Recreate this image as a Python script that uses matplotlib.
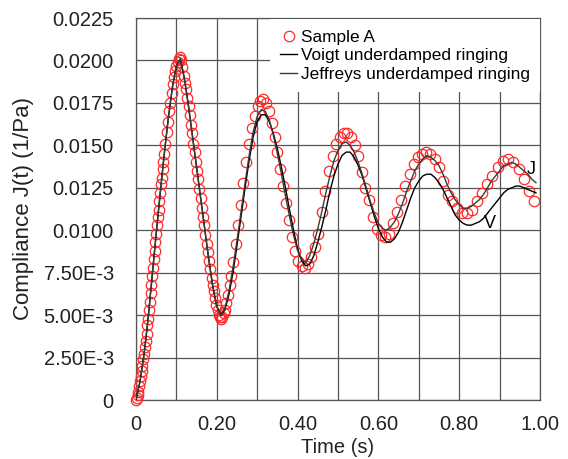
import matplotlib
matplotlib.use("Agg")
import matplotlib.pyplot as plt

plt.rcParams['font.family'] = ['Liberation Sans', 'DejaVu Sans']

# measured creep ringing of Sample A (time in s, compliance in 1/Pa)
sample_t = [0.000, 0.002, 0.004, 0.006, 0.008, 0.010, 0.012, 0.014, 0.016, 0.018,
            0.020, 0.022, 0.024, 0.026, 0.028, 0.030, 0.032, 0.034, 0.036, 0.038,
            0.040, 0.042, 0.044, 0.046, 0.048, 0.050, 0.052, 0.054, 0.056, 0.058,
            0.060, 0.062, 0.064, 0.066, 0.068, 0.070, 0.073, 0.076, 0.079, 0.082,
            0.085, 0.088, 0.091, 0.094, 0.097, 0.100, 0.103, 0.106, 0.109, 0.112,
            0.115, 0.118, 0.121, 0.124, 0.127, 0.130, 0.133, 0.136, 0.139, 0.142,
            0.145, 0.148, 0.151, 0.154, 0.157, 0.160, 0.163, 0.166, 0.169, 0.172,
            0.175, 0.178, 0.181, 0.184, 0.187, 0.190, 0.193, 0.196, 0.199, 0.202,
            0.205, 0.208, 0.211, 0.214, 0.217, 0.220, 0.224, 0.228, 0.232, 0.236,
            0.241, 0.247, 0.253, 0.259, 0.266, 0.273, 0.280, 0.287, 0.294, 0.301,
            0.308, 0.315, 0.322, 0.329, 0.336, 0.343, 0.350, 0.357, 0.364, 0.371,
            0.378, 0.386, 0.394, 0.402, 0.410, 0.418, 0.426, 0.434, 0.442, 0.451,
            0.460, 0.469, 0.478, 0.487, 0.496, 0.505, 0.514, 0.523, 0.532, 0.541,
            0.550, 0.559, 0.568, 0.577, 0.587, 0.597, 0.607, 0.617, 0.627, 0.637,
            0.647, 0.657, 0.667, 0.677, 0.687, 0.697, 0.707, 0.717, 0.728, 0.739,
            0.750, 0.761, 0.772, 0.783, 0.795, 0.807, 0.819, 0.831, 0.843, 0.856,
            0.869, 0.882, 0.895, 0.908, 0.921, 0.934, 0.947, 0.960, 0.973, 0.986]
sample_j = [0.0000, 0.0001, 0.0003, 0.0005, 0.0008, 0.0011, 0.0014, 0.0017, 0.0020, 0.0024,
            0.0027, 0.0031, 0.0035, 0.0039, 0.0044, 0.0048, 0.0053, 0.0058, 0.0063, 0.0068,
            0.0073, 0.0078, 0.0083, 0.0088, 0.0093, 0.0098, 0.0103, 0.0108, 0.0112, 0.0117,
            0.0122, 0.0127, 0.0131, 0.0136, 0.0140, 0.0145, 0.0151, 0.0158, 0.0164, 0.0170,
            0.0175, 0.0181, 0.0186, 0.0190, 0.0194, 0.0197, 0.0199, 0.0201, 0.0202, 0.0200,
            0.0196, 0.0191, 0.0187, 0.0183, 0.0178, 0.0173, 0.0168, 0.0162, 0.0157, 0.0151,
            0.0146, 0.0140, 0.0135, 0.0130, 0.0124, 0.0119, 0.0113, 0.0108, 0.0103, 0.0097,
            0.0092, 0.0087, 0.0082, 0.0077, 0.0072, 0.0068, 0.0064, 0.0060, 0.0056, 0.0053,
            0.0050, 0.0049, 0.0048, 0.0049, 0.0051, 0.0053, 0.0057, 0.0062, 0.0068, 0.0073,
            0.0081, 0.0092, 0.0103, 0.0115, 0.0128, 0.0140, 0.0151, 0.0160, 0.0167, 0.0173,
            0.0176, 0.0177, 0.0175, 0.0170, 0.0163, 0.0155, 0.0146, 0.0136, 0.0126, 0.0116,
            0.0106, 0.0096, 0.0088, 0.0082, 0.0079, 0.0078, 0.0080, 0.0084, 0.0090, 0.0098,
            0.0111, 0.0123, 0.0135, 0.0144, 0.0151, 0.0155, 0.0157, 0.0157, 0.0155, 0.0150,
            0.0144, 0.0134, 0.0125, 0.0118, 0.0108, 0.0101, 0.0097, 0.0096, 0.0098, 0.0104,
            0.0111, 0.0118, 0.0126, 0.0133, 0.0139, 0.0143, 0.0145, 0.0146, 0.0145, 0.0142,
            0.0137, 0.0129, 0.0121, 0.0117, 0.0113, 0.0110, 0.0110, 0.0112, 0.0117, 0.0122,
            0.0127, 0.0132, 0.0137, 0.0141, 0.0142, 0.0140, 0.0136, 0.0130, 0.0123, 0.0117]

# model curves
model_t = [0.00, 0.01, 0.02, 0.03, 0.04, 0.05, 0.06, 0.07, 0.08, 0.09,
           0.10, 0.11, 0.12, 0.13, 0.14, 0.15, 0.16, 0.17, 0.18, 0.19,
           0.20, 0.21, 0.22, 0.23, 0.24, 0.25, 0.26, 0.27, 0.28, 0.29,
           0.30, 0.31, 0.32, 0.33, 0.34, 0.35, 0.36, 0.37, 0.38, 0.39,
           0.40, 0.41, 0.42, 0.43, 0.44, 0.45, 0.46, 0.47, 0.48, 0.49,
           0.50, 0.51, 0.52, 0.53, 0.54, 0.55, 0.56, 0.57, 0.58, 0.59,
           0.60, 0.61, 0.62, 0.63, 0.64, 0.65, 0.66, 0.67, 0.68, 0.69,
           0.70, 0.71, 0.72, 0.73, 0.74, 0.75, 0.76, 0.77, 0.78, 0.79,
           0.80, 0.81, 0.82, 0.83, 0.84, 0.85, 0.86, 0.87, 0.88, 0.89,
           0.90, 0.91, 0.92, 0.93, 0.94, 0.95, 0.96, 0.97, 0.98, 0.99]
voigt_j = [0.0000, 0.0011, 0.0027, 0.0048, 0.0073, 0.0098, 0.0122, 0.0145, 0.0166, 0.0184,
           0.0197, 0.0201, 0.0189, 0.0173, 0.0155, 0.0137, 0.0119, 0.0101, 0.0083, 0.0067,
           0.0055, 0.0050, 0.0053, 0.0062, 0.0075, 0.0091, 0.0108, 0.0125, 0.0141, 0.0155,
           0.0164, 0.0168, 0.0168, 0.0164, 0.0157, 0.0148, 0.0137, 0.0125, 0.0112, 0.0100,
           0.0089, 0.0082, 0.0079, 0.0080, 0.0085, 0.0093, 0.0102, 0.0112, 0.0123, 0.0132,
           0.0139, 0.0144, 0.0146, 0.0146, 0.0143, 0.0138, 0.0132, 0.0124, 0.0116, 0.0108,
           0.0101, 0.0096, 0.0093, 0.0093, 0.0095, 0.0099, 0.0105, 0.0112, 0.0119, 0.0125,
           0.0129, 0.0132, 0.0133, 0.0133, 0.0131, 0.0128, 0.0124, 0.0119, 0.0114, 0.0109,
           0.0106, 0.0104, 0.0103, 0.0103, 0.0104, 0.0105, 0.0107, 0.0110, 0.0113, 0.0116,
           0.0119, 0.0122, 0.0124, 0.0125, 0.0126, 0.0126, 0.0125, 0.0124, 0.0123, 0.0122]
jeffreys_j = [0.0000, 0.0011, 0.0027, 0.0048, 0.0073, 0.0098, 0.0122, 0.0145, 0.0166, 0.0184,
              0.0197, 0.0201, 0.0189, 0.0173, 0.0155, 0.0137, 0.0119, 0.0101, 0.0083, 0.0067,
              0.0055, 0.0050, 0.0054, 0.0064, 0.0078, 0.0094, 0.0111, 0.0128, 0.0144, 0.0158,
              0.0167, 0.0171, 0.0170, 0.0165, 0.0156, 0.0145, 0.0133, 0.0120, 0.0108, 0.0097,
              0.0088, 0.0083, 0.0081, 0.0085, 0.0092, 0.0101, 0.0111, 0.0122, 0.0132, 0.0141,
              0.0147, 0.0151, 0.0152, 0.0150, 0.0146, 0.0140, 0.0133, 0.0125, 0.0117, 0.0110,
              0.0104, 0.0101, 0.0100, 0.0102, 0.0105, 0.0110, 0.0116, 0.0123, 0.0129, 0.0135,
              0.0139, 0.0142, 0.0144, 0.0143, 0.0141, 0.0138, 0.0133, 0.0127, 0.0122, 0.0118,
              0.0115, 0.0113, 0.0113, 0.0114, 0.0116, 0.0118, 0.0121, 0.0125, 0.0129, 0.0132,
              0.0135, 0.0138, 0.0139, 0.0140, 0.0139, 0.0137, 0.0135, 0.0133, 0.0130, 0.0128]

x_ticks = [0, 0.1, 0.2, 0.3, 0.4, 0.5, 0.6, 0.7, 0.8, 0.9, 1.0]
x_labels = ['0', '', '0.20', '', '0.40', '', '0.60', '', '0.80', '', '1.00']
y_ticks = [0, 0.0025, 0.005, 0.0075, 0.01, 0.0125, 0.015, 0.0175, 0.02, 0.0225]
y_labels = ['0', '2.50E-3', '5.00E-3', '7.50E-3', '0.0100', '0.0125',
            '0.0150', '0.0175', '0.0200', '0.0225']

fig = plt.figure(figsize=(5.68, 4.59), dpi=100)
ax = fig.add_axes([136/568, 59/459, 404/568, 382/459])

grid_c = '#555555'
ax.plot(sample_t, sample_j, 'o', ms=7.5, mfc='none', mec='#ff2a2a', mew=0.9,
        clip_on=False, zorder=3, label='Sample A')
ax.plot(model_t, voigt_j, color='black', lw=1.0, zorder=4,
        label='Voigt underdamped ringing')
ax.plot(model_t, jeffreys_j, color='#3a3a3a', lw=1.0, zorder=4,
        label='Jeffreys underdamped ringing')

ax.set_xlim(0, 1.0)
ax.set_ylim(0, 0.0225)
ax.set_xticks(x_ticks)
ax.set_xticklabels(x_labels)
ax.set_yticks(y_ticks)
ax.set_yticklabels(y_labels)
ax.tick_params(length=0, labelsize=14.5, colors='#222222')
ax.tick_params(axis='y', pad=16)
ax.tick_params(axis='x', pad=11)
ax.grid(True, color=grid_c, lw=0.9)
ax.set_axisbelow(True)
for s in ax.spines.values():
    s.set_color(grid_c)
    s.set_linewidth(0.9)

ax.set_xlabel('Time (s)', fontsize=14.5, labelpad=3, color='#222222')
ax.set_ylabel('Compliance J(t) (1/Pa)', fontsize=16, labelpad=6.5, color='#222222')

ax.text(0.978, 0.0136, 'J', fontsize=13, ha='center', va='center', zorder=5)
ax.text(0.876, 0.0104, 'V', fontsize=13, ha='center', va='center', zorder=5)

ax.legend(loc='upper left', bbox_to_anchor=(0.331, 0.997), frameon=True,
          fancybox=False, edgecolor='none', facecolor='white', framealpha=1,
          fontsize=12.4, handlelength=1.0, handletextpad=0.2, borderpad=0.6,
          labelspacing=0.2, borderaxespad=0)

fig.savefig('out.png', dpi=100)
